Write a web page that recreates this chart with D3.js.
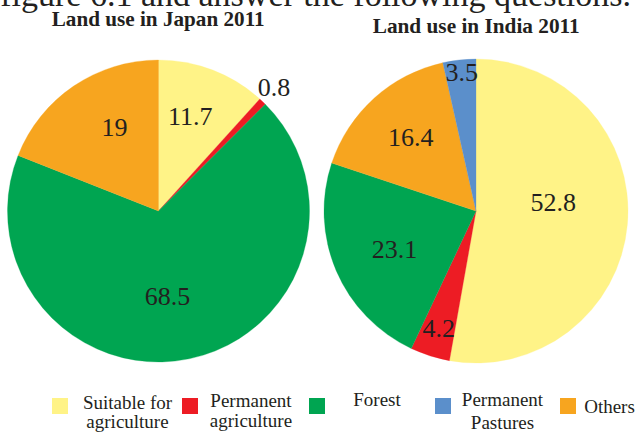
<!DOCTYPE html>
<html>
<head>
<meta charset="utf-8">
<script src="https://cdn.jsdelivr.net/npm/d3@7"></script>
<style>
  html, body { margin: 0; padding: 0; background: #ffffff; }
  svg { display: block; }
</style>
</head>
<body>
<svg id="chart" width="636" height="433"></svg>
<script>
// ---- data ----
const categories = ["Suitable for agriculture", "Permanent agriculture", "Forest", "Permanent Pastures", "Others"];
const categoryColors = ["#fff387", "#ed1c24", "#00a551", "#5b8fcb", "#f7a51f"];

const japanCategories = ["Suitable for agriculture", "Permanent agriculture", "Forest", "Others"];
const japanValues = [11.7, 0.8, 68.5, 19];

const indiaCategories = ["Suitable for agriculture", "Permanent agriculture", "Forest", "Others", "Permanent Pastures"];
const indiaValues = [52.8, 4.2, 23.1, 16.4, 3.5];

const japanTitle = "Land use in Japan 2011";
const indiaTitle = "Land use in India 2011";
const headerText = "figure 6.1 and answer the following questions.";

const legendLines = [["Suitable for", "agriculture"], ["Permanent", "agriculture"], ["Forest"], ["Permanent", "Pastures"], ["Others"]];
const legendCategories = ["Suitable for agriculture", "Permanent agriculture", "Forest", "Permanent Pastures", "Others"];

// ---- layout (not data) ----
const FONT = '"Liberation Serif"';
const INK = "#231f20";
const layout = {
  japan: { cx: 158.5, cy: 211, r: 151,
           labelK: [0.66, 1.12, 0.57, 0.63],
           nudge: [[-4, -2], [-1, -1.5], [-8.5, 1], [9.5, -5.4]] },
  india: { cx: 476, cy: 211, r: 152,
           labelK: [0.51, 0.81, 0.59, 0.66, 0.92],
           nudge: [[0, -16], [0, 0], [1, 3], [2, 0], [1, 0]] },
  legendSquareX: [52, 182, 309, 435, 560],
  legendTextX: [127.5, 251, 377, 502.5, 609.5],
  legendTextY: [[409, 428], [406.5, 427], [405.5], [405.5, 429], [413]]
};

const svg = d3.select("#chart");
const color = d3.scaleOrdinal().domain(categories).range(categoryColors);

function txt(sel) {
  return sel.style("font-family", FONT).attr("fill", INK);
}

// header (cut off at top)
txt(svg.append("text"))
  .attr("x", 631).attr("y", 6)
  .attr("text-anchor", "end")
  .style("font-size", "34px")
  .text(headerText);

// titles
txt(svg.append("text")).attr("x", 51.7).attr("y", 26)
  .style("font-size", "21px").style("font-weight", "bold")
  .attr("textLength", 213).attr("lengthAdjust", "spacingAndGlyphs")
  .text(japanTitle);
txt(svg.append("text")).attr("x", 372.7).attr("y", 33)
  .style("font-size", "21px").style("font-weight", "bold")
  .attr("textLength", 207).attr("lengthAdjust", "spacingAndGlyphs")
  .text(indiaTitle);

function drawPie(cats, vals, L) {
  const data = cats.map((c, i) => ({ cat: c, value: vals[i] }));
  const pie = d3.pie().sort(null).value(d => d.value).startAngle(0).endAngle(2 * Math.PI);
  const arcs = pie(data);
  const arc = d3.arc().innerRadius(0).outerRadius(L.r);
  const g = svg.append("g").attr("transform", `translate(${L.cx},${L.cy})`);
  g.selectAll("path").data(arcs).join("path")
    .attr("d", arc)
    .attr("fill", d => color(d.data.cat))
    .attr("stroke", d => color(d.data.cat))
    .attr("stroke-width", 0.3);
  txt(g.selectAll("text.lbl").data(arcs).join("text"))
    .attr("class", "lbl")
    .attr("text-anchor", "middle")
    .style("font-size", "26px")
    .attr("x", (d, i) => {
      const rr = L.r * L.labelK[i];
      const a = (d.startAngle + d.endAngle) / 2;
      return Math.sin(a) * rr + L.nudge[i][0];
    })
    .attr("y", (d, i) => {
      const rr = L.r * L.labelK[i];
      const a = (d.startAngle + d.endAngle) / 2;
      return -Math.cos(a) * rr + L.nudge[i][1] + 9;
    })
    .text(d => d.data.value);
}

drawPie(japanCategories, japanValues, layout.japan);
drawPie(indiaCategories, indiaValues, layout.india);

// legend
const lg = svg.append("g");
legendCategories.forEach((c, i) => {
  lg.append("rect")
    .attr("x", layout.legendSquareX[i]).attr("y", 398)
    .attr("width", 16).attr("height", 16)
    .attr("fill", color(c));
  legendLines[i].forEach((line, j) => {
    txt(lg.append("text"))
      .attr("x", layout.legendTextX[i])
      .attr("y", layout.legendTextY[i][j])
      .attr("text-anchor", "middle")
      .style("font-size", "19px")
      .text(line);
  });
});
</script>
</body>
</html>
